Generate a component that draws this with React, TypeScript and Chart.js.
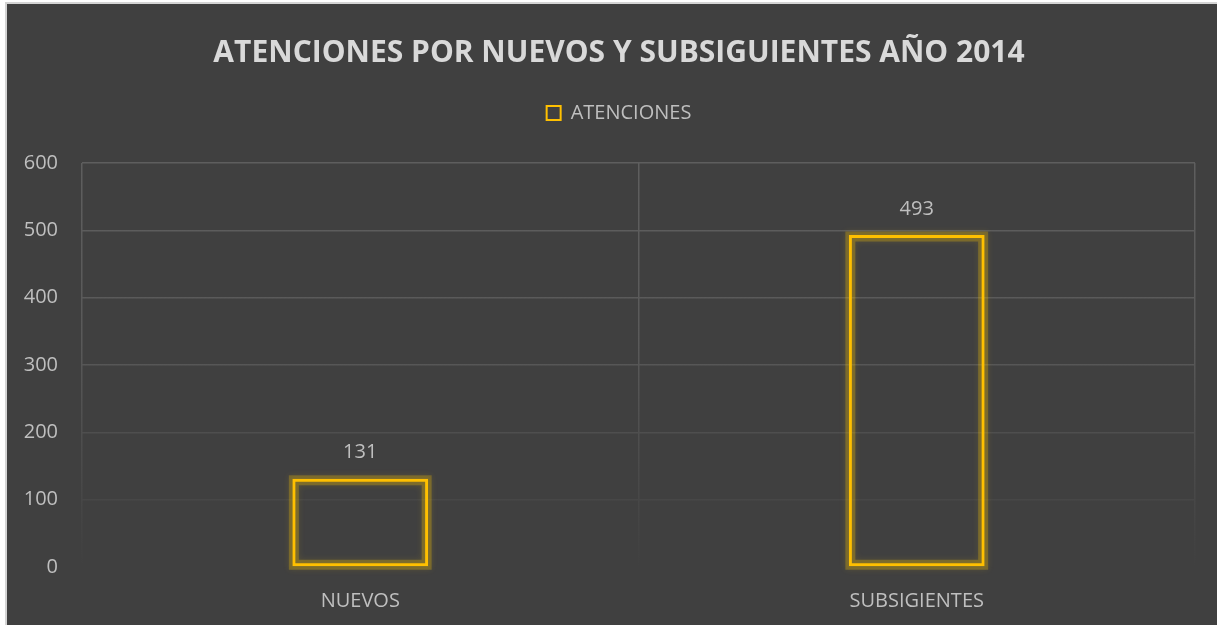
import React, { useEffect, useRef } from "react";
import { Chart, registerables } from "chart.js";

Chart.register(...registerables);

const TITLE = "ATENCIONES POR NUEVOS Y SUBSIGUIENTES AÑO 2014";
const SERIES_LABEL = "ATENCIONES";
const CATEGORIES = ["NUEVOS", "SUBSIGIENTES"];
const VALUES = [131, 493];
const Y_MIN = 0;
const Y_MAX = 600;
const Y_STEP = 100;

const FONT = "'Open Sans', 'Liberation Sans', sans-serif";
const YELLOW = "#FFC000";
const TEXT = "#bfbfbf";

const gridGradient = (chart: any) => {
  const area = chart.chartArea;
  if (!area) return "#555555";
  const g = chart.ctx.createLinearGradient(0, area.top, 0, area.bottom);
  g.addColorStop(0, "#5e5e5e");
  g.addColorStop(0.45, "#595959");
  g.addColorStop(0.7, "#4d4d4d");
  g.addColorStop(0.9, "#444444");
  g.addColorStop(1, "#404040");
  return g;
};

const legendSpacePlugin = {
  id: "legendSpace",
  beforeUpdate(chart: any) {
    const legend = chart.legend;
    if (legend && !legend.__patched) {
      const orig = legend.fit;
      legend.fit = function () {
        orig.call(this);
        this.height += 30;
      };
      legend.__patched = true;
    }
  },
};

// soft glow around each bar, placed from the bar elements the library laid out
const glowPlugin = {
  id: "glow",
  beforeDatasetsDraw(chart: any) {
    const ctx = chart.ctx;
    const meta = chart.getDatasetMeta(0);
    ctx.save();
    ctx.shadowColor = "rgba(255, 200, 0, 0.45)";
    ctx.shadowOffsetX = 0;
    ctx.shadowOffsetY = 0;
    ctx.shadowBlur = 6;
    ctx.strokeStyle = "rgba(255, 200, 0, 0.26)";
    ctx.lineWidth = 10;
    meta.data.forEach((bar: any) => {
      const { x, y, base, width } = bar.getProps(["x", "y", "base", "width"], true);
      const left = x - width / 2;
      const top = Math.min(y, base);
      const h = Math.abs(base - y);
      ctx.strokeRect(left + 1.5, top + 1.5, width - 3, h - 3);
    });
    ctx.restore();
  },
};

const labelPlugin = {
  id: "valueLabels",
  afterDraw(chart: any) {
    const ctx = chart.ctx;
    const meta = chart.getDatasetMeta(0);
    ctx.save();
    ctx.font = `20px ${FONT}`;
    ctx.fillStyle = TEXT;
    ctx.textAlign = "center";
    ctx.textBaseline = "middle";
    meta.data.forEach((bar: any, i: number) => {
      ctx.fillText(String(VALUES[i]), bar.x, bar.y - 26);
    });
    ctx.restore();
  },
};

export default function App() {
  const ref = useRef<HTMLCanvasElement | null>(null);

  useEffect(() => {
    if (!ref.current) return;
    const chart = new Chart(ref.current, {
      type: "bar",
      data: {
        labels: CATEGORIES,
        datasets: [
          {
            label: SERIES_LABEL,
            data: VALUES,
            backgroundColor: "rgba(0,0,0,0)",
            borderColor: YELLOW,
            borderWidth: 3,
            borderSkipped: false,
            barPercentage: 0.244,
            categoryPercentage: 1,
            yAxisID: "y",
          },
        ],
      },
      options: {
        animation: false,
        responsive: true,
        maintainAspectRatio: false,
        layout: { padding: { left: 14, right: 0, top: 0, bottom: 0 } },
        plugins: {
          title: {
            display: true,
            text: TITLE,
            color: "#d9d9d9",
            font: { family: FONT, size: 30, weight: "bold" },
            padding: { top: 31, bottom: 12 },
          },
          legend: {
            display: true,
            position: "top",
            labels: {
              color: TEXT,
              font: { family: FONT, size: 20 },
              boxWidth: 14,
              boxHeight: 14,
              padding: 20,
              generateLabels: () => [
                {
                  text: SERIES_LABEL,
                  fillStyle: "rgba(0,0,0,0)",
                  strokeStyle: YELLOW,
                  lineWidth: 2,
                  fontColor: TEXT,
                  datasetIndex: 0,
                  hidden: false,
                },
              ],
            },
          },
          tooltip: { enabled: false },
        },
        scales: {
          x: {
            offset: true,
            grid: {
              offset: true,
              drawTicks: false,
              color: (c: any) => gridGradient(c.chart),
              lineWidth: 1.5,
            },
            border: { display: false },
            ticks: {
              color: TEXT,
              font: { family: FONT, size: 20 },
              padding: 22,
            },
            afterFit: (s: any) => {
              s.height = 58;
            },
          },
          y: {
            position: "left",
            min: Y_MIN,
            max: Y_MAX,
            grid: {
              drawTicks: false,
              color: (c: any) => gridGradient(c.chart),
              lineWidth: 1.5,
            },
            border: { display: false },
            ticks: {
              stepSize: Y_STEP,
              color: TEXT,
              font: { family: FONT, size: 20 },
              padding: 24,
            },
            afterFit: (s: any) => {
              s.width = 61;
            },
          },
          yRight: {
            position: "right",
            min: Y_MIN,
            max: Y_MAX,
            grid: { display: false },
            border: { display: false },
            ticks: { display: false },
            afterFit: (s: any) => {
              s.width = 22;
            },
          },
        },
      },
      plugins: [legendSpacePlugin, glowPlugin, labelPlugin],
    });
    return () => chart.destroy();
  }, []);

  return (
    <div
      style={{
        position: "fixed",
        left: 0,
        top: 0,
        width: 1217,
        height: 625,
        background: "#ffffff",
        overflow: "hidden",
      }}
    >
      <div
        style={{
          position: "absolute",
          left: 5,
          top: 2,
          right: 0,
          bottom: 0,
          borderLeft: "2px solid #d4d4d4",
          borderTop: "2px solid #d4d4d4",
          background: "#404040",
        }}
      >
        <canvas ref={ref} />
      </div>
    </div>
  );
}
